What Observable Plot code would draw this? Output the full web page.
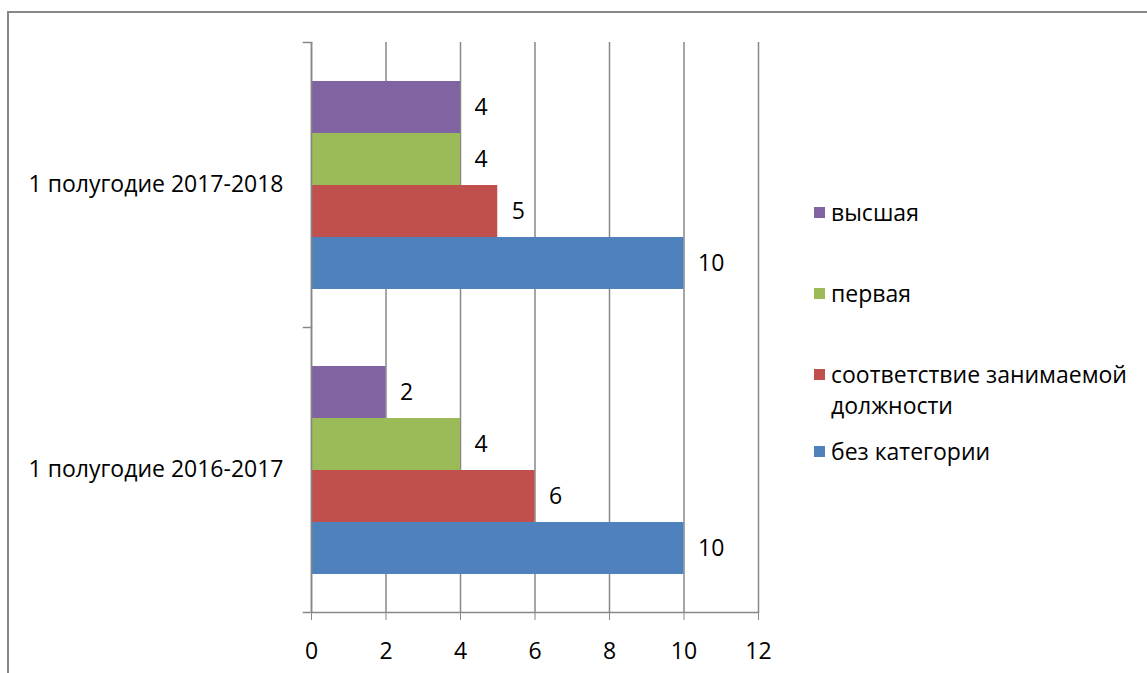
<!DOCTYPE html>
<html>
<head>
<meta charset="utf-8">
<script src="https://cdn.jsdelivr.net/npm/d3@7"></script>
<script src="https://cdn.jsdelivr.net/npm/@observablehq/plot@0.6"></script>
<style>
  html, body { margin: 0; padding: 0; background: #fff; overflow: hidden; width: 1147px; height: 673px; }
  #wrap { position: relative; width: 1147px; height: 673px; font-family: "Open Sans", sans-serif; }
  #border { position: absolute; left: 7px; top: 11px; width: 1200px; height: 700px; border: 2px solid #888; box-sizing: border-box; }
  #chart { position: absolute; left: 0; top: 0; }
  .legend { position: absolute; left: 814px; font-size: 23px; color: #000; }
  .item { position: absolute; left: 0; width: 320px; display: flex; align-items: flex-start; line-height: 31px; }
  .sw { width: 11px; height: 11px; flex: none; margin-top: 10px; margin-right: 6px; }
</style>
</head>
<body>
<div id="wrap">
  <div id="border"></div>
  <div id="chart"></div>
  <div class="legend" id="legend"></div>
</div>
<script>
// Categories (periods), top to bottom in the chart
const periods = ["1 полугодие 2017-2018", "1 полугодие 2016-2017"];
// Series (top-to-bottom order within each group)
const series = ["высшая", "первая", "соответствие занимаемой должности", "без категории"];
const colors = ["#8064A2", "#9BBB59", "#C0504D", "#4F81BD"];
// Values per series, aligned with periods
const vysshaya = [4, 2];
const pervaya = [4, 4];
const sootvetstvie = [5, 6];
const bezKategorii = [10, 10];
const xTicks = [0, 2, 4, 6, 8, 10, 12];

const seriesValues = [vysshaya, pervaya, sootvetstvie, bezKategorii];
const data = [];
periods.forEach((p, i) => {
  series.forEach((s, j) => {
    data.push({period: p, series: s, value: seriesValues[j][i]});
  });
});

const font = "'Open Sans', sans-serif";
const chart = Plot.plot({
  width: 1147,
  height: 673,
  marginLeft: 311,
  marginRight: 389,
  marginTop: 42,
  marginBottom: 61,
  style: {fontFamily: font, fontSize: "23px", color: "#000", background: "transparent", overflow: "visible"},
  x: {domain: [0, 12]},
  y: {domain: series, paddingInner: 0, paddingOuter: 0.714, axis: null},
  fy: {domain: periods, padding: 0},
  color: {domain: series, range: colors},
  marks: [
    Plot.gridX({ticks: xTicks, stroke: "#888", strokeOpacity: 1, strokeWidth: 1.5}),
    Plot.barX(data, {x: "value", y: "series", fy: "period", fill: "series"}),
    Plot.text(data, {x: "value", y: "series", fy: "period", text: d => String(d.value), textAnchor: "start", dx: 14, fill: "#000", fontSize: 23}),
    Plot.frame({anchor: "top", stroke: "#888", strokeWidth: 1.5, insetLeft: -8, insetRight: 447}),
    Plot.frame({anchor: "bottom", facetAnchor: "bottom", stroke: "#888", strokeWidth: 1.5, insetLeft: -8}),
    Plot.ruleX([0], {stroke: "#888", strokeWidth: 1.5}),
    Plot.axisX({ticks: xTicks, tickSize: 8, tickPadding: 22, fontSize: 23, label: null, stroke: "#888", color: "#000", anchor: "bottom"}),
    Plot.axisFy({anchor: "left", tickSize: 0, tickPadding: 28, fontSize: 23, label: null})
  ]
});
document.getElementById("chart").appendChild(chart);

// Legend
const legendTops = [197, 278, 359, 436];
const legend = document.getElementById("legend");
series.forEach((s, j) => {
  const item = document.createElement("div");
  item.className = "item";
  item.style.top = legendTops[j] + "px";
  const sw = document.createElement("div");
  sw.className = "sw";
  sw.style.background = colors[j];
  const t = document.createElement("div");
  t.textContent = s;
  item.appendChild(sw);
  item.appendChild(t);
  legend.appendChild(item);
});
</script>
</body>
</html>
